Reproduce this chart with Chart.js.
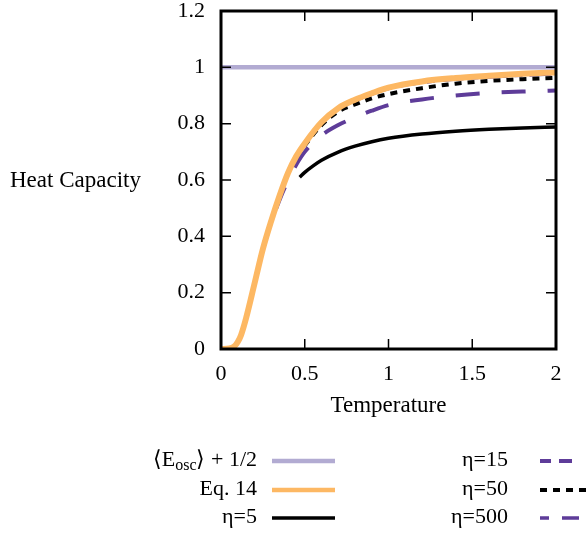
<!DOCTYPE html>
<html>
<head>
<meta charset="utf-8">
<script src="https://cdn.jsdelivr.net/npm/chart.js@4/dist/chart.umd.min.js"></script>
<style>
  body { margin: 0; background: #fff; }
  canvas { display: block; }
</style>
</head>
<body>
<canvas id="chart" width="587" height="536"></canvas>
<script>
// values
const tempEq14 = [0, 0.05, 0.08, 0.1, 0.12, 0.15, 0.2, 0.25, 0.3, 0.35, 0.4, 0.45, 0.5, 0.6, 0.7, 0.8, 0.9, 1.0, 1.2, 1.4, 1.6, 1.8, 2.0];
const eq14 = [0, 0.002, 0.01, 0.025, 0.05, 0.11, 0.232, 0.355, 0.455, 0.545, 0.625, 0.685, 0.73, 0.805, 0.855, 0.885, 0.908, 0.928, 0.95, 0.962, 0.97, 0.977, 0.982];

const tempEta = [0.1, 0.12, 0.15, 0.2, 0.25, 0.3, 0.35, 0.4, 0.45, 0.5, 0.6, 0.7, 0.8, 0.9, 1.0, 1.2, 1.4, 1.6, 1.8, 2.0];
const eta15 = [0.025, 0.05, 0.11, 0.232, 0.353, 0.45, 0.53, 0.598, 0.655, 0.7, 0.758, 0.795, 0.822, 0.846, 0.866, 0.886, 0.9, 0.909, 0.914, 0.918];
const eta50 = [0.025, 0.05, 0.11, 0.232, 0.355, 0.455, 0.545, 0.623, 0.68, 0.722, 0.795, 0.843, 0.868, 0.89, 0.905, 0.926, 0.942, 0.952, 0.958, 0.963];
const eta500 = [0.025, 0.05, 0.11, 0.232, 0.355, 0.455, 0.545, 0.625, 0.685, 0.728, 0.802, 0.852, 0.882, 0.905, 0.925, 0.946, 0.958, 0.966, 0.972, 0.977];

const tempEta5 = [0.47, 0.5, 0.55, 0.6, 0.7, 0.8, 0.9, 1.0, 1.2, 1.4, 1.6, 1.8, 2.0];
const eta5 = [0.61, 0.627, 0.65, 0.67, 0.699, 0.72, 0.736, 0.748, 0.763, 0.773, 0.78, 0.785, 0.788];

const tempOsc = [0, 2];
const osc = [1, 1];

const xTickVals = [0, 0.5, 1, 1.5, 2];
const yTickVals = [0, 0.2, 0.4, 0.6, 0.8, 1, 1.2];

const FONT = '"Liberation Serif", "Times New Roman", serif';
const LILAC = '#b2abd2';
const ORANGE = '#fdb863';
const PURPLE = '#5e3c99';

const pts = (xs, ys) => xs.map((x, i) => ({ x, y: ys[i] }));

const series = [
  { label: 'osc', data: pts(tempOsc, osc), color: LILAC, width: 4.5, dash: [], legendDash: [] },
  { label: 'Eq. 14', data: pts(tempEq14, eq14), color: ORANGE, width: 6, dash: [], legendDash: [] },
  { label: 'η=5', data: pts(tempEta5, eta5), color: '#000', width: 3.5, dash: [], legendDash: [] },
  { label: 'η=15', data: pts(tempEta, eta15), color: PURPLE, width: 4, dash: [24, 22], legendDash: [11, 8, 13, 30] },
  { label: 'η=50', data: pts(tempEta, eta50), color: '#000', width: 4, dash: [7, 6], legendDash: [7, 6] },
  { label: 'η=500', data: pts(tempEta, eta500), color: PURPLE, width: 3.5, dash: [8, 7, 22, 7], legendDash: [9, 13, 17, 30] },
];

// frame, inward mirrored ticks, y title and the key
const decorations = {
  id: 'decorations',
  afterDatasetsDraw(chart) {
    const { ctx, chartArea: a, scales: { x, y } } = chart;
    ctx.save();
    ctx.strokeStyle = '#000';
    ctx.lineWidth = 1.5;
    ctx.beginPath();
    xTickVals.forEach(v => {
      const px = x.getPixelForValue(v);
      ctx.moveTo(px, a.bottom); ctx.lineTo(px, a.bottom - 10);
      ctx.moveTo(px, a.top); ctx.lineTo(px, a.top + 10);
    });
    yTickVals.forEach(v => {
      const py = y.getPixelForValue(v);
      ctx.moveTo(a.left, py); ctx.lineTo(a.left + 10, py);
      ctx.moveTo(a.right, py); ctx.lineTo(a.right - 10, py);
    });
    ctx.stroke();
    ctx.lineWidth = 3;
    ctx.strokeRect(a.left, a.top, a.right - a.left, a.bottom - a.top);
    ctx.restore();
  },
  afterDraw(chart) {
    const { ctx } = chart;
    ctx.save();
    ctx.fillStyle = '#000';
    ctx.font = `23px ${FONT}`;
    ctx.textBaseline = 'middle';
    ctx.textAlign = 'left';
    ctx.fillText('Heat Capacity', 10, 181);

    const rows = [460, 489, 517];
    const cols = [{ textRight: 257, x0: 272, x1: 335 }, { textRight: 508, x0: 540, x1: 603 }];
    series.forEach((s, i) => {
      const col = cols[Math.floor(i / 3)];
      const yy = rows[i % 3];
      ctx.textAlign = 'right';
      ctx.font = `22px ${FONT}`;
      if (s.label === 'osc') {
        const tail = '\u27E9 + 1/2';
        ctx.fillText(tail, col.textRight, yy);
        let xr = col.textRight - ctx.measureText(tail).width;
        ctx.font = `16px ${FONT}`;
        ctx.fillText('osc', xr, yy + 6);
        xr -= ctx.measureText('osc').width;
        ctx.font = `22px ${FONT}`;
        ctx.fillText('\u27E8E', xr, yy);
      } else {
        ctx.fillText(s.label, col.textRight, yy);
      }
      ctx.strokeStyle = s.color;
      ctx.lineWidth = Math.min(s.width, 4.5);
      ctx.setLineDash(s.legendDash);
      ctx.beginPath();
      ctx.moveTo(col.x0, yy + 1);
      ctx.lineTo(col.x1, yy + 1);
      ctx.stroke();
      ctx.setLineDash([]);
    });
    ctx.restore();
  }
};

new Chart(document.getElementById('chart'), {
  type: 'line',
  data: {
    datasets: series.map(s => ({
      label: s.label,
      data: s.data,
      borderColor: s.color,
      borderWidth: s.width,
      borderDash: s.dash,
      pointRadius: 0,
      fill: false,
      cubicInterpolationMode: 'monotone',
    })),
  },
  options: {
    responsive: false,
    animation: false,
    layout: { padding: { top: 11, right: 31, left: 0, bottom: 112 } },
    plugins: { legend: { display: false }, tooltip: { enabled: false } },
    scales: {
      x: {
        type: 'linear',
        min: 0,
        max: 2,
        afterBuildTicks: s => { s.ticks = xTickVals.map(v => ({ value: v })); },
        afterFit: s => { s.height = 75; s.paddingLeft = 0; s.paddingRight = 0; },
        grid: { display: false, drawTicks: false },
        border: { display: false },
        ticks: {
          padding: 14,
          color: '#000',
          font: { family: FONT, size: 22, lineHeight: 1 },
          callback: v => String(v),
        },
        title: {
          display: true,
          text: 'Temperature',
          color: '#000',
          font: { family: FONT, size: 23 },
        },
      },
      y: {
        min: 0,
        max: 1.2,
        afterBuildTicks: s => { s.ticks = yTickVals.map(v => ({ value: v })); },
        afterFit: s => { s.width = 221; s.paddingTop = 0; s.paddingBottom = 0; },
        grid: { display: false, drawTicks: false },
        border: { display: false },
        ticks: {
          padding: 16,
          color: '#000',
          font: { family: FONT, size: 22, lineHeight: 1 },
          callback: v => String(Number(v.toFixed(1))),
        },
      },
    },
  },
  plugins: [decorations],
});
</script>
</body>
</html>
